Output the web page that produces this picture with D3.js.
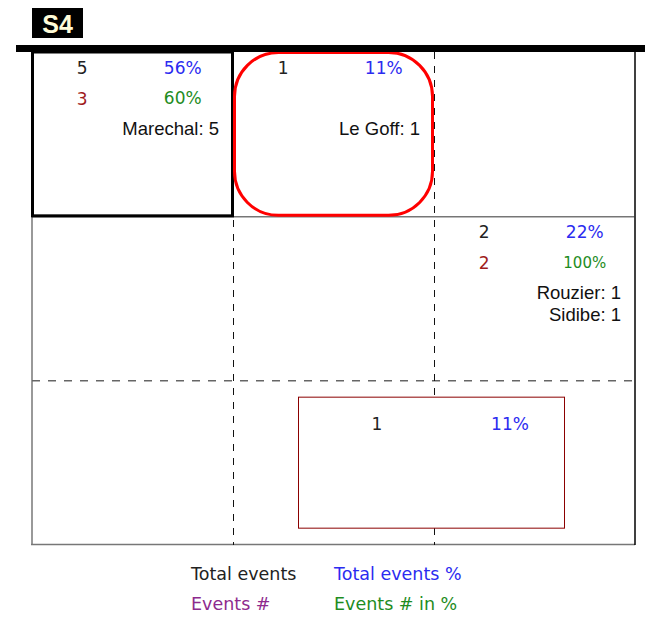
<!DOCTYPE html>
<html><head><meta charset="utf-8">
<script src="https://cdn.jsdelivr.net/npm/d3@7"></script>
<style>body{margin:0;background:#fff}</style>
</head><body>
<script>
const title = "S4";
const rowsIdx = [0, 1, 2];
const colsIdx = [0, 1, 2];
// cells with data
const cellRow = [0, 0, 1, 2];
const cellCol = [0, 1, 2, 1];
const totalEvents = [5, 1, 2, 1];
const totalPct = ["56%", "11%", "22%", "11%"];
const eventsNum = [3, null, 2, null];
const eventsPct = ["60%", null, "100%", null];
const names = [["Marechal: 5"], ["Le Goff: 1"], ["Rouzier: 1", "Sidibe: 1"], []];
const legendLabels = ["Total events", "Total events %", "Events #", "Events # in %"];

const W = 645, H = 617;
const svg = d3.select("body").append("svg").attr("width", W).attr("height", H);
const x = d3.scaleBand().domain(colsIdx).range([32, 635]);
const y = d3.scaleBand().domain(rowsIdx).range([52, 545]);
const bw = x.bandwidth(), bh = y.bandwidth();

// title box
svg.append("rect").attr("x", 32).attr("y", 8).attr("width", 51).attr("height", 30).attr("fill", "#000");
svg.append("text").attr("x", 57.5).attr("y", 33).attr("text-anchor", "middle")
  .attr("font-family", "Liberation Sans, Arial").attr("font-weight", "bold").attr("font-size", 25)
  .attr("fill", "#fffbd8").text(title);

// outer grid
svg.append("line").attr("x1", 32).attr("x2", 32).attr("y1", 52).attr("y2", 545).attr("stroke", "#777").attr("stroke-width", 1.5);
svg.append("line").attr("x1", 31).attr("x2", 635).attr("y1", 544.5).attr("y2", 544.5).attr("stroke", "#777").attr("stroke-width", 1.5);
svg.append("line").attr("x1", 635).attr("x2", 635).attr("y1", 52).attr("y2", 545).attr("stroke", "#000").attr("stroke-width", 1.5);
// solid row line
svg.append("line").attr("x1", 32).attr("x2", 635).attr("y1", y(1) + 0.5).attr("y2", y(1) + 0.5).attr("stroke", "#333").attr("stroke-width", 1);
// dashed row line
svg.append("line").attr("x1", 32).attr("x2", 635).attr("y1", y(2)).attr("y2", y(2)).attr("stroke", "#666").attr("stroke-width", 1.5).attr("stroke-dasharray", "8,8");
// dashed col lines
[1, 2].forEach(c => {
  svg.append("line").attr("x1", x(c) + 0.5).attr("x2", x(c) + 0.5).attr("y1", 52).attr("y2", 545)
    .attr("stroke", "#111").attr("stroke-width", 1).attr("stroke-dasharray", "7,7");
});

// highlight boxes
svg.append("rect").attr("x", x(0) + 0.5).attr("y", y(0)).attr("width", bw - 1).attr("height", bh - 0.5)
  .attr("fill", "none").attr("stroke", "#000").attr("stroke-width", 3);
svg.append("rect").attr("x", x(1) + 1.5).attr("y", y(0) + 0.5).attr("width", bw - 3).attr("height", bh - 1.5)
  .attr("rx", 44).attr("ry", 44).attr("fill", "none").attr("stroke", "#ff0000").attr("stroke-width", 3);
// small rect in cell (2,1)
const rx0 = x(1) + 65, rx1 = x(2) + 130, ry0 = y(2) + 16, ry1 = y(2) + 147;
svg.append("rect").attr("x", rx0 + 0.5).attr("y", ry0 + 0.5).attr("width", rx1 - rx0).attr("height", ry1 - ry0)
  .attr("fill", "#fff").attr("stroke", "#8b0000").attr("stroke-width", 1);

// top bar
svg.append("rect").attr("x", 16).attr("y", 45).attr("width", W - 16).attr("height", 7).attr("fill", "#000");

const numFont = "DejaVu Sans, Verdana";
const nameFont = "Liberation Sans, Arial";
totalEvents.forEach((t, i) => {
  const r = cellRow[i], c = cellCol[i];
  let cx0 = x(c) + bw * 0.25, cx1 = x(c) + bw * 0.75, cy = y(r) + 22;
  if (r === 2) { cx0 = rx0 + 79; cx1 = rx0 + 212; cy = ry0 + 33; }
  svg.append("text").attr("x", cx0).attr("y", cy).attr("text-anchor", "middle")
    .attr("font-family", numFont).attr("font-size", 17).attr("fill", "#222").text(t);
  svg.append("text").attr("x", cx1).attr("y", cy).attr("text-anchor", "middle")
    .attr("font-family", numFont).attr("font-size", 17).attr("fill", "#2b2bf0").text(totalPct[i]);
  if (eventsNum[i] !== null) {
    svg.append("text").attr("x", cx0).attr("y", cy + 31).attr("text-anchor", "middle")
      .attr("font-family", numFont).attr("font-size", 17).attr("fill", "#a01c1c").text(eventsNum[i]);
    svg.append("text").attr("x", cx1).attr("y", cy + 30).attr("text-anchor", "middle")
      .attr("font-family", numFont).attr("font-size", eventsPct[i].length > 3 ? 15 : 17).attr("fill", "#1e8c1e").text(eventsPct[i]);
  }
  names[i].forEach((n, k) => {
    svg.append("text").attr("x", x(c) + bw - 14).attr("y", y(r) + 83 + k * 22).attr("text-anchor", "end")
      .attr("font-family", nameFont).attr("font-size", 18.5).attr("fill", "#111").text(n);
  });
});

// legend
const legColors = ["#222", "#2b2bf0", "#8e2a8e", "#1e8c1e"];
legendLabels.forEach((l, i) => {
  svg.append("text").attr("x", i % 2 === 0 ? 191 : 334).attr("y", 580 + Math.floor(i / 2) * 30)
    .attr("font-family", numFont).attr("font-size", 17.5).attr("fill", legColors[i]).text(l);
});
</script>
</body></html>
